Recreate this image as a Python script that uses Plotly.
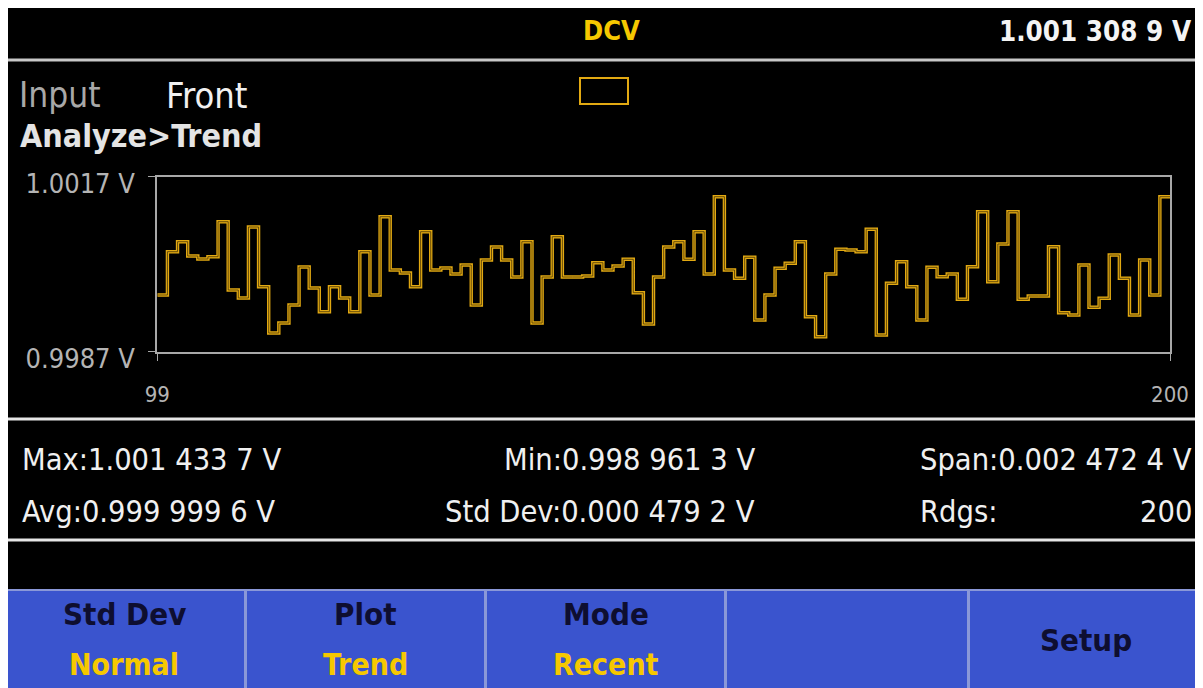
import plotly.graph_objects as go
import numpy as np

# the page keeps the browser's 8 px body margin (as in the reference photo)
PAGE_OFF = 8
FW, FH = 1195, 680


def fx(X):
    return (X - PAGE_OFF) / FW


def fy(Y):
    return 1 - (Y - PAGE_OFF) / FH


# ---------------- data ----------------
axis_x_range = [99, 200]
axis_x_ticks = [99, 200]
axis_x_labels = ["99", "200"]
axis_y_range = [0.9987, 1.0017]
axis_y_ticks = [0.9987, 1.0017]
axis_y_labels = ["0.9987 V", "1.0017 V"]

volts = [
    0.9996720, 1.0004143, 1.0005857, 1.0003406, 1.0002891, 1.0003286, 1.0009286, 0.9997577, 0.9996206, 1.0008377,
    0.9998143, 0.9990206, 0.9991920, 0.9995006, 1.0001520, 0.9997920, 0.9993857, 0.9998143, 0.9996206, 0.9993857,
    1.0004143, 0.9996720, 1.0010143, 1.0001006, 1.0000491, 0.9998143, 1.0007571, 1.0001006, 1.0001349, 1.0000320,
    1.0001863, 0.9995006, 1.0002720, 1.0004949, 1.0002720, 0.9999806, 1.0005857, 0.9991920, 0.9999806, 1.0006714,
    0.9999806, 0.9999806, 0.9999977, 1.0002257, 1.0001006, 1.0001691, 1.0002840, 0.9997114, 0.9991749, 0.9999806,
    1.0004949, 1.0005857, 1.0002840, 1.0007571, 1.0000320, 1.0013571, 1.0001006, 0.9999583, 1.0003183, 0.9992434,
    0.9996720, 1.0001297, 1.0002154, 1.0005857, 0.9993000, 0.9989571, 1.0000320, 1.0004554, 1.0004434, 1.0004143,
    1.0007983, 0.9989863, 0.9998726, 1.0002429, 0.9998143, 0.9992434, 1.0001469, 0.9999857, 1.0000320, 0.9995983,
    1.0001571, 1.0011000, 0.9999000, 1.0005463, 1.0011000, 0.9995983, 0.9996549, 0.9996549, 1.0005000, 0.9993686,
    0.9993291, 1.0001863, 0.9994611, 0.9996154, 1.0003577, 0.9999583, 0.9993291, 1.0002720, 0.9996720, 1.0013571,
]

function_name = "DCV"
reading_text = "1.001 308 9 V"
input_label, input_value = "Input", "Front"
screen_title = "Analyze>Trend"

stats_row1 = ["Max:1.001 433 7 V", "Min:0.998 961 3 V", "Span:0.002 472 4 V"]
stats_row2 = ["Avg:0.999 999 6 V", "Std Dev:0.000 479 2 V", "Rdgs:", "200"]

softkey_titles = ["Std Dev", "Plot", "Mode", "", "Setup"]
softkey_values = ["Normal", "Trend", "Recent", "", ""]

# ---------------- styling ----------------
FONT = "DejaVu Sans Condensed, DejaVu Sans, sans-serif"
GOLD = "#E2A912"
YELLOW = "#F6C800"
GREY = "#B4B4B4"
BLUE = "#3A54CE"

step_x = np.linspace(axis_x_range[0], axis_x_range[1], len(volts) + 1)
step_y = volts + [volts[-1]]

fig = go.Figure()
fig.add_trace(go.Scatter(x=step_x, y=step_y, mode="lines",
                         line=dict(shape="hv", color=GOLD, width=3.4),
                         hoverinfo="skip", showlegend=False))
fig.add_trace(go.Scatter(x=step_x, y=step_y, mode="lines",
                         line=dict(shape="hv", color="#5A4308", width=0.9),
                         hoverinfo="skip", showlegend=False))

shapes = []
# header separator
shapes.append(dict(type="line", xref="paper", yref="paper", x0=0, x1=1,
                   y0=fy(60), y1=fy(60), line=dict(color="#C8C8C8", width=3)))
# small yellow box
shapes.append(dict(type="rect", xref="paper", yref="paper", x0=fx(580), x1=fx(628),
                   y0=fy(104), y1=fy(78), line=dict(color=GOLD, width=2)))
# stats box lines
for yy in (419, 540):
    shapes.append(dict(type="line", xref="paper", yref="paper", x0=0, x1=1,
                       y0=fy(yy), y1=fy(yy), line=dict(color="#E6E6E6", width=3)))
# softkeys
key_edges = [(4, 245), (246, 485), (486, 725), (726, 968), (969, 1215)]
for (a, b) in key_edges:
    shapes.append(dict(type="rect", xref="paper", yref="paper", x0=fx(a), x1=fx(b),
                       y0=fy(700), y1=fy(590), fillcolor=BLUE,
                       line=dict(color="#8A98D8", width=2), layer="below"))

ann = []


def text(t, X, Y, anchor="left", size=30, color="#F0F0F0", bold=False):
    if bold:
        t = "<b>" + t + "</b>"
    ann.append(dict(text=t, x=fx(X), y=fy(Y), xref="paper", yref="paper",
                    xanchor=anchor, yanchor="middle", showarrow=False,
                    font=dict(family=FONT, size=size, color=color)))


text(function_name, 611, 31, "center", 27, YELLOW, True)
text(reading_text, 1194, 31, "right", 27.5, "#F4F4F4", True)
text(input_label, 17, 95, "left", 35, "#A8A8A8")
text(input_value, 164, 95, "left", 36, "#F0F0F0")
text(screen_title, 18, 136, "left", 32, "#E4E4E4", True)

text(stats_row1[0], 20, 459, "left", 30.5)
text(stats_row1[1], 757, 459, "right", 30.5)
text(stats_row1[2], 1194, 459, "right", 30.5)
text(stats_row2[0], 20, 511, "left", 30.5)
text(stats_row2[1], 757, 511, "right", 30.5)
text(stats_row2[2], 918, 511, "left", 30.5)
text(stats_row2[3], 1194, 511, "right", 30.5)

for (a, b), t1, t2 in zip(key_edges, softkey_titles, softkey_values):
    cx = (a + min(b, 1203)) / 2
    if t1 and t2:
        text(t1, cx, 614, "center", 31, "#0E0E30", True)
        text(t2, cx, 664, "center", 30, YELLOW, True)
    elif t1:
        text(t1, cx, 640, "center", 31, "#0E0E30", True)

fig.update_layout(
    width=FW, height=FH, autosize=False,
    margin=dict(l=0, r=0, t=0, b=0, pad=0, autoexpand=False),
    paper_bgcolor="#000000", plot_bgcolor="#000000",
    shapes=shapes, annotations=ann, showlegend=False,
    xaxis=dict(domain=[fx(157.3), fx(1170)], range=axis_x_range,
               tickvals=axis_x_ticks, ticktext=axis_x_labels,
               showline=True, mirror=True, linecolor="#A8A8A8", linewidth=2,
               ticks="outside", ticklen=7, tickcolor="#A8A8A8", tickwidth=1,
               tickfont=dict(family=FONT, size=22, color=GREY),
               ticklabelstandoff=15, automargin=False,
               showgrid=False, zeroline=False, fixedrange=True),
    yaxis=dict(domain=[fy(351.7), fy(176.7)], range=axis_y_range,
               tickvals=axis_y_ticks, ticktext=axis_y_labels,
               showline=True, mirror=True, linecolor="#A8A8A8", linewidth=2,
               ticks="outside", ticklen=7, tickcolor="#A8A8A8", tickwidth=1,
               tickfont=dict(family=FONT, size=27, color=GREY),
               ticklabelstandoff=8, ticklabelshift=7,
               automargin=False,
               showgrid=False, zeroline=False, fixedrange=True),
)

fig.write_html("out.html", config={"displayModeBar": False, "staticPlot": True})
